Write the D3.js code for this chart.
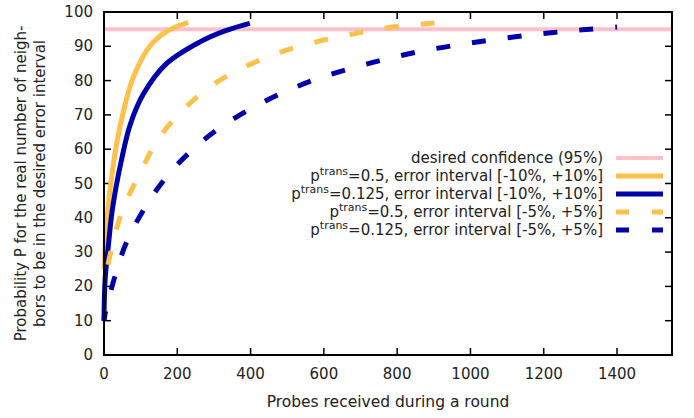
<!DOCTYPE html>
<html>
<head>
<meta charset="utf-8">
<script src="https://cdn.jsdelivr.net/npm/d3@7"></script>
<style>
body { margin: 0; background: #fff; }
text { font-family: "DejaVu Sans", sans-serif; fill: #222; }
</style>
</head>
<body>
<svg id="chart" width="694" height="418"></svg>
<script>
// values: [probes, probability %]
var p05err10 = [[0,25],[5,35],[10,42],[21,52],[35,62],[53,71],[80,81],[125,90],[170,94.3],[230,97]];
var p0125err10 = [[0,10],[3,22],[12,32],[21,41],[33,49],[48,57],[71,67],[107,76],[171,85],[262,91.3],[330,94.5],[398,96.7]];
var p05err5 = [[0,20],[3,22],[25,33],[53,43],[98,53],[148,63],[216,71.5],[293,78.5],[384,84],[480,88.2],[580,91.3],[679,93.6],[779,95.5],[902,96.8]];
var p0125err5 = [[0,10],[3,12],[30,23],[62,33],[112,43],[171,52],[243,60],[321,66.6],[411,72.4],[505,77.3],[598,81.1],[698,84.3],[797,87],[897,89.2],[997,90.9],[1102,92.5],[1206,93.8],[1306,94.8],[1400,95.6]];
var confidence = 95;

var xTicks = [0,200,400,600,800,1000,1200,1400];
var yTicks = [0,10,20,30,40,50,60,70,80,90,100];

var seriesList = [
    {name: "p05err10", data: p05err10, ptrans: "0.5", interval: "[-10%, +10%]", color: "#ffc04c", dash: null},
    {name: "p0125err10", data: p0125err10, ptrans: "0.125", interval: "[-10%, +10%]", color: "#0000aa", dash: null},
    {name: "p05err5", data: p05err5, ptrans: "0.5", interval: "[-5%, +5%]", color: "#ffc04c", dash: [14, 22], endAt: 14},
    {name: "p0125err5", data: p0125err5, ptrans: "0.125", interval: "[-5%, +5%]", color: "#0000aa", dash: [14, 22], endAt: 2}
];

var svg = d3.select("#chart");
var plotL = 104, plotR = 672, plotT = 12, plotB = 355;
var fs = 15;

var x = d3.scaleLinear().domain([0, 1550]).range([plotL, plotR]);
var y = d3.scaleLinear().domain([0, 100]).range([plotB, plotT]);

// ticks (inward, mirrored)
var tickLen = 7;
var axes = svg.append("g").attr("stroke", "#000").attr("stroke-width", 1.5);
xTicks.forEach(function(t){
    axes.append("line").attr("x1", x(t)).attr("x2", x(t)).attr("y1", plotB).attr("y2", plotB - tickLen);
    axes.append("line").attr("x1", x(t)).attr("x2", x(t)).attr("y1", plotT).attr("y2", plotT + tickLen);
});
yTicks.forEach(function(t){
    axes.append("line").attr("x1", plotL).attr("x2", plotL + tickLen).attr("y1", y(t)).attr("y2", y(t));
    axes.append("line").attr("x1", plotR).attr("x2", plotR - tickLen).attr("y1", y(t)).attr("y2", y(t));
});

svg.selectAll("text.xt").data(xTicks).enter().append("text")
    .attr("class", "xt")
    .attr("x", function(d){return x(d);})
    .attr("y", 379)
    .attr("text-anchor", "middle")
    .attr("font-size", fs)
    .text(function(d){return d;});

svg.selectAll("text.yt").data(yTicks).enter().append("text")
    .attr("class", "yt")
    .attr("x", 93)
    .attr("y", function(d){return y(d) + 5;})
    .attr("text-anchor", "end")
    .attr("font-size", fs)
    .text(function(d){return d;});

svg.append("text")
    .attr("x", (plotL + plotR) / 2).attr("y", 407)
    .attr("text-anchor", "middle")
    .attr("font-size", 15.5)
    .text("Probes received during a round");

var ylab = svg.append("text")
    .attr("transform", "translate(26," + ((plotT + plotB) / 2) + ") rotate(-90)")
    .attr("text-anchor", "middle")
    .attr("font-size", fs);
ylab.append("tspan").attr("x", 0).attr("dy", 0).text("Probability P for the real number of neigh-");
ylab.append("tspan").attr("x", 0).attr("dy", 19).text("bors to be in the desired error interval");

// confidence line
svg.append("line")
    .attr("x1", x(0)).attr("x2", plotR)
    .attr("y1", y(confidence)).attr("y2", y(confidence))
    .attr("stroke", "#ffc0cb").attr("stroke-width", 4);

var line = d3.line()
    .x(function(d){return x(d[0]);})
    .y(function(d){return y(d[1]);})
    .curve(d3.curveCatmullRom.alpha(0.5));

seriesList.forEach(function(s){
    var p = svg.append("path")
	.attr("d", line(s.data))
	.attr("fill", "none")
	.attr("stroke", s.color)
	.attr("stroke-width", 5);
    if (s.dash) {
	// line the dash pattern up with where the reference's last dash falls
	var period = s.dash[0] + s.dash[1];
	var L = p.node().getTotalLength();
	p.attr("stroke-dasharray", s.dash.join(","))
	    .attr("stroke-dashoffset", (s.endAt - (L % period) + period) % period);
    }
});

// border
svg.append("rect")
    .attr("x", plotL).attr("y", plotT)
    .attr("width", plotR - plotL).attr("height", plotB - plotT)
    .attr("fill", "none").attr("stroke", "#000").attr("stroke-width", 2);

// legend
var legendX = 603, sampleX1 = 616, sampleX2 = 663, rowY = 158, rowH = 18;
var lg = svg.append("g");
lg.append("text")
    .attr("x", legendX).attr("y", rowY + 5)
    .attr("text-anchor", "end").attr("font-size", fs)
    .text("desired confidence (95%)");
lg.append("line")
    .attr("x1", sampleX1).attr("x2", sampleX2)
    .attr("y1", rowY).attr("y2", rowY)
    .attr("stroke", "#ffc0cb").attr("stroke-width", 4);

seriesList.forEach(function(s, i){
    var yy = rowY + rowH * (i + 1);
    var t = lg.append("text")
	.attr("x", legendX).attr("y", yy + 5)
	.attr("text-anchor", "end").attr("font-size", fs);
    t.append("tspan").text("p");
    t.append("tspan").attr("font-size", 11).attr("dy", -6).text("trans");
    t.append("tspan").attr("dy", 6).text("=" + s.ptrans + ", error interval " + s.interval);
    lg.append("line")
	.attr("x1", sampleX1).attr("x2", sampleX2)
	.attr("y1", yy).attr("y2", yy)
	.attr("stroke", s.color).attr("stroke-width", 5)
	.attr("stroke-dasharray", s.dash ? "13,23" : null);
});
</script>
</body>
</html>
